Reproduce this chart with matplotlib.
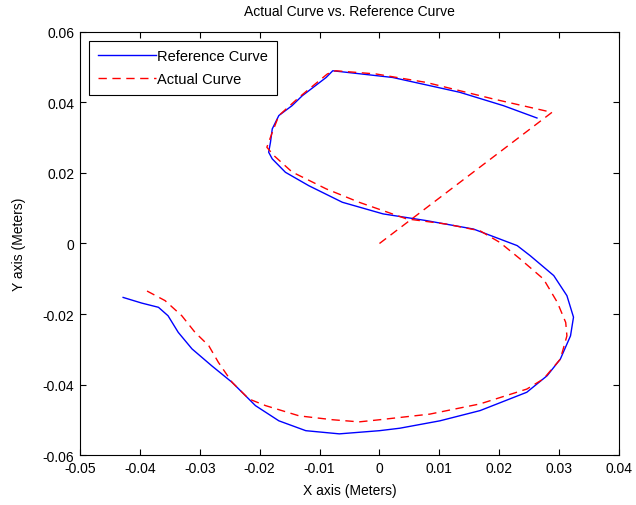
import matplotlib
matplotlib.use("Agg")
import matplotlib.pyplot as plt

plt.rcParams['font.family'] = ['Liberation Sans', 'DejaVu Sans']

ref_x = [0.0263, 0.0207, 0.0134, 0.0022, -0.0078, -0.0089, -0.0129, -0.0146, -0.0168,
         -0.0179, -0.0182, -0.0185, -0.0179, -0.0157, -0.0118, -0.0062, 0.0006, 0.0078,
         0.0157, 0.0230, 0.0252, 0.0291, 0.0313, 0.0324, 0.0319, 0.0302, 0.0280, 0.0246,
         0.0168, 0.0101, 0.0034, 0.0000, -0.0067, -0.0123, -0.0168, -0.0207, -0.0246,
         -0.0280, -0.0313, -0.0336, -0.0353, -0.0369, -0.0397, -0.0428]
ref_y = [0.0356, 0.0391, 0.0429, 0.0471, 0.0490, 0.0471, 0.0419, 0.0391, 0.0363,
         0.0325, 0.0287, 0.0259, 0.0240, 0.0202, 0.0164, 0.0117, 0.0084, 0.0065,
         0.0041, -0.0006, -0.0035, -0.0091, -0.0148, -0.0209, -0.0262, -0.0328, -0.0375, -0.0422,
         -0.0474, -0.0503, -0.0524, -0.0531, -0.0540, -0.0531, -0.0503, -0.0460, -0.0394,
         -0.0347, -0.0299, -0.0252, -0.0205, -0.0181, -0.0169, -0.0153]

act_x = [0.0, 0.0288, 0.0190, 0.0078, -0.0006, -0.0073, -0.0087, -0.0134, -0.0168,
         -0.0179, -0.0188, -0.0176, -0.0146, -0.0089, -0.0034, 0.0045, 0.0112, 0.0168,
         0.0201, 0.0235, 0.0274, 0.0297, 0.0311, 0.0313, 0.0302, 0.0274, 0.0246, 0.0168,
         0.0084, 0.0000, -0.0034, -0.0078, -0.0134, -0.0190, -0.0218, -0.0246, -0.0269,
         -0.0285, -0.0308, -0.0330, -0.0358, -0.0389]
act_y = [0.0, 0.0372, 0.0410, 0.0457, 0.0481, 0.0490, 0.0481, 0.0415, 0.0363,
         0.0315, 0.0273, 0.0249, 0.0203, 0.0155, 0.0117, 0.0070, 0.0055, 0.0036,
         0.0003, -0.0044, -0.0101, -0.0167, -0.0224, -0.0262, -0.0328, -0.0384, -0.0413, -0.0455,
         -0.0484, -0.0500, -0.0506, -0.0500, -0.0489, -0.0460, -0.0441, -0.0394, -0.0337,
         -0.0290, -0.0252, -0.0205, -0.0162, -0.0134]

xticks = [-0.05, -0.04, -0.03, -0.02, -0.01, 0, 0.01, 0.02, 0.03, 0.04]
xticklabels = ['-0.05', '-0.04', '-0.03', '-0.02', '-0.01', '0', '0.01', '0.02', '0.03', '0.04']
yticks = [-0.06, -0.04, -0.02, 0, 0.02, 0.04, 0.06]
yticklabels = ['-0.06', '-0.04', '-0.02', '0', '0.02', '0.04', '0.06']

fig = plt.figure(figsize=(6.36, 5.06), dpi=100)
ax = fig.add_axes([0.1258, 0.0988, 0.8475, 0.836])
ax.plot(ref_x, ref_y, color='#0000ff', lw=1.0, label='Reference Curve')
ax.plot(act_x, act_y, color='#ff0000', lw=1.0, ls=(0, (6, 4)), label='Actual Curve')
ax.set_xlim(-0.05, 0.04)
ax.set_ylim(-0.06, 0.06)
ax.set_xticks(xticks)
ax.set_xticklabels(xticklabels)
ax.set_yticks(yticks)
ax.set_yticklabels(yticklabels)
ax.tick_params(direction='in', top=True, right=True, length=4, labelsize=10, width=0.8, pad=4)
for s in ax.spines.values():
    s.set_linewidth(0.8)
ax.set_xlabel('X axis (Meters)', fontsize=10, labelpad=6)
ax.set_ylabel('Y axis (Meters)', fontsize=10, labelpad=12)
ax.set_title('Actual Curve vs. Reference Curve', fontsize=10, pad=12)
leg = ax.legend(loc='upper left', fontsize=10.5, fancybox=False, edgecolor='black',
                framealpha=1, handlelength=4.0, borderaxespad=0.6, handletextpad=0.1,
                borderpad=0.6, labelspacing=0.6)
leg.get_frame().set_linewidth(0.8)
fig.savefig('out.png', dpi=100)
